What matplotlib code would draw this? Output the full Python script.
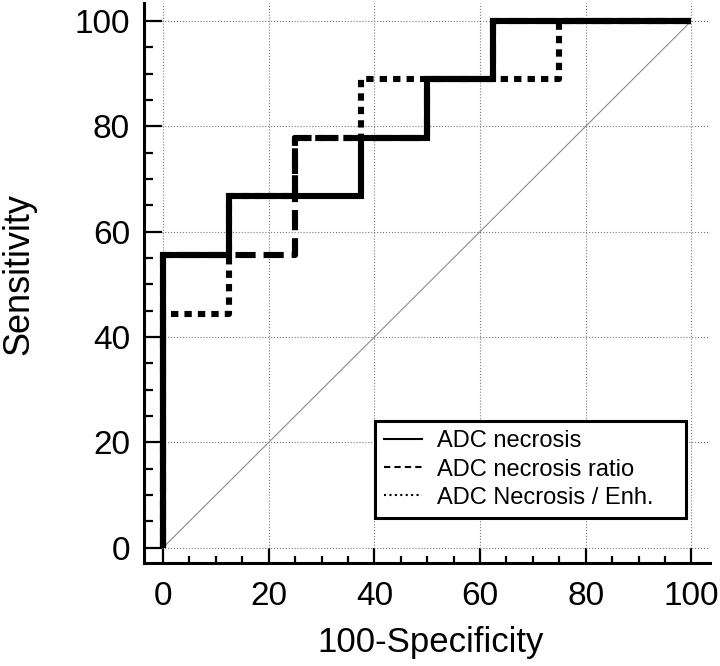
import matplotlib
matplotlib.use('Agg')
import matplotlib.pyplot as plt
from matplotlib.lines import Line2D
from matplotlib.ticker import MultipleLocator

plt.rcParams['font.family'] = ['Liberation Sans', 'DejaVu Sans']

# ROC curve points (100-Specificity, Sensitivity)
fpr_necrosis = [0, 0, 12.5, 12.5, 37.5, 37.5, 50, 50, 62.5, 62.5, 100]
tpr_necrosis = [0, 55.56, 55.56, 66.67, 66.67, 77.78, 77.78, 88.89, 88.89, 100, 100]

fpr_ratio = [0, 0, 25, 25, 50, 50, 62.5, 62.5, 100]
tpr_ratio = [0, 55.56, 55.56, 77.78, 77.78, 88.89, 88.89, 100, 100]

fpr_enh = [0, 0, 12.5, 12.5, 25, 25, 37.5, 37.5, 75, 75, 100]
tpr_enh = [0, 44.44, 44.44, 66.67, 66.67, 77.78, 77.78, 88.89, 88.89, 100, 100]

labels = ['ADC necrosis', 'ADC necrosis ratio', 'ADC Necrosis / Enh.']
ticks = [0, 20, 40, 60, 80, 100]

fig = plt.figure(figsize=(7.2, 6.66), dpi=100)
ax = fig.add_axes([0.2, 0.1547, 0.786, 0.8408])

# chance line
ax.plot([0, 100], [0, 100], color='#8c8c8c', lw=0.8, zorder=2)

ax.plot(fpr_enh, tpr_enh, color='black', lw=4.4, linestyle=(0, (1.2, 1.0)),
        dash_capstyle='butt', solid_joinstyle='miter', zorder=3)
ax.plot(fpr_ratio, tpr_ratio, color='black', lw=4.4, linestyle=(0, (3.3, 1.3)),
        dash_capstyle='butt', solid_joinstyle='miter', zorder=4)
ax.plot(fpr_necrosis, tpr_necrosis, color='black', lw=4.4,
        solid_joinstyle='miter', solid_capstyle='butt', zorder=5)

ax.set_xlim(-3.6, 103.5)
ax.set_ylim(-2.9, 103.4)
ax.set_xticks(ticks)
ax.set_yticks(ticks)
ax.xaxis.set_minor_locator(MultipleLocator(5))
ax.yaxis.set_minor_locator(MultipleLocator(5))

ax.grid(True, which='major', color='#7a7a7a', linestyle=':', linewidth=0.8, zorder=1)
ax.set_axisbelow(True)

for s in ['top', 'right']:
    ax.spines[s].set_visible(False)
for s in ['left', 'bottom']:
    ax.spines[s].set_linewidth(2.2)

ax.tick_params(axis='both', which='both', direction='in', width=1.6, labelsize=24)
ax.tick_params(axis='x', which='major', length=11, pad=13)
ax.tick_params(axis='x', which='minor', length=5)
ax.tick_params(axis='y', which='major', length=13, pad=10)
ax.tick_params(axis='y', which='minor', length=6.5)

ax.set_xlabel('100-Specificity', fontsize=25)
ax.set_ylabel('Sensitivity', fontsize=26)
ax.xaxis.set_label_coords(0.507, -0.1125)
ax.yaxis.set_label_coords(-0.19, 0.516)

handles = [Line2D([], [], color='black', lw=1.5),
           Line2D([], [], color='black', lw=1.5, linestyle=(0, (3, 2))),
           Line2D([], [], color='black', lw=1.5, linestyle=(0, (1, 1.6)))]
leg = ax.legend(handles, labels, loc='lower left', bbox_to_anchor=(0.408, 0.08, 0.55, 0.175),
                mode='expand', fontsize=17, frameon=True, fancybox=False,
                handlelength=1.6, handletextpad=0.64, labelspacing=0.26,
                borderpad=0.4, borderaxespad=0)
leg.get_frame().set_edgecolor('black')
leg.get_frame().set_linewidth(2.2)
leg.get_frame().set_alpha(1)
leg.set_zorder(6)

fig.savefig('out.png', dpi=100)
